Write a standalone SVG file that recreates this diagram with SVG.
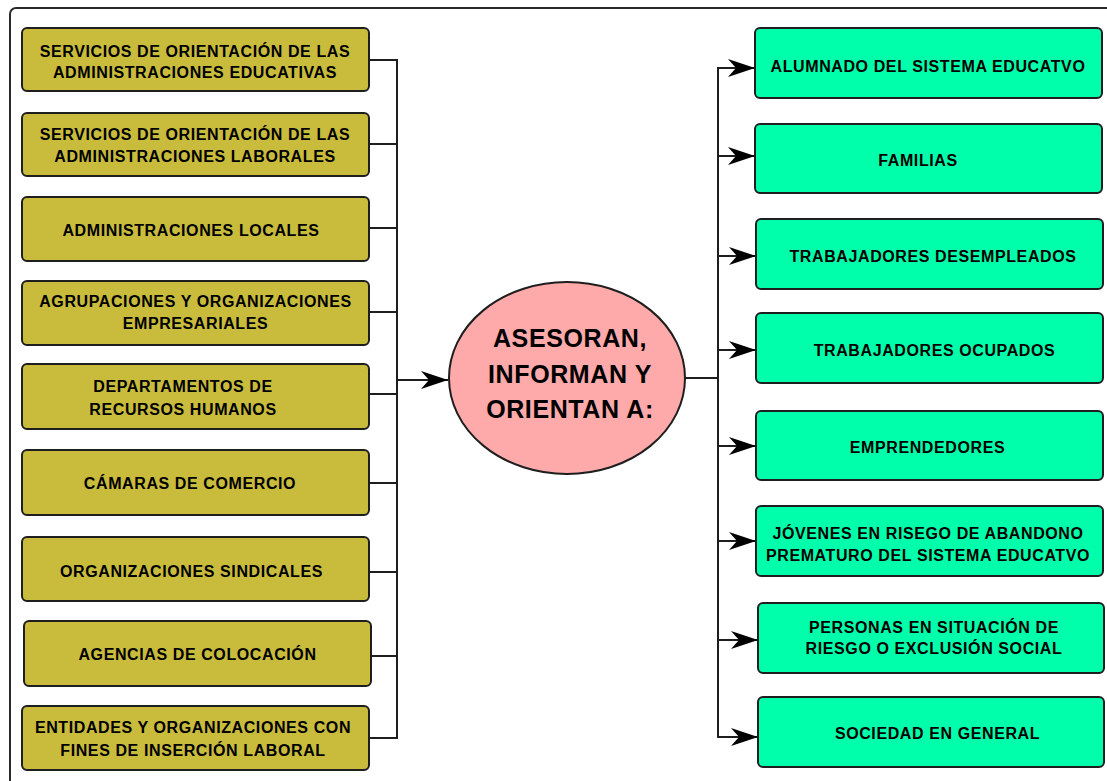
<svg xmlns="http://www.w3.org/2000/svg" width="1107" height="781" viewBox="0 0 1107 781">
<style>
.l{fill:#C9BC3C;stroke:#1e1e1e;stroke-width:2}
.r{fill:#00FFAA;stroke:#1e1e1e;stroke-width:2}
.t{font-family:"Liberation Sans",Arial,sans-serif;font-weight:bold;font-size:16px;fill:#000;text-anchor:middle;letter-spacing:0.6px}
.big{font-size:25px;letter-spacing:0.6px}
.c{fill:none;stroke:#1e1e1e;stroke-width:2}
</style>
<defs>
<marker id="ah" markerUnits="userSpaceOnUse" markerWidth="30" markerHeight="22" refX="27" refY="10" orient="auto">
<path d="M27,10 L0,1 L8,10 L0,19 Z" fill="#000"/>
</marker>
</defs>
<rect x="0" y="0" width="1107" height="781" fill="#fff"/>
<rect x="10" y="8" width="1120" height="800" rx="6" fill="none" stroke="#2a2a2a" stroke-width="2"/>
<g id="connectors">
<path class="c" d="M369,60 H397 M369,144 H397 M369,228 H397 M369,312 H397 M369,394 H397 M369,483 H397 M369,572 H397 M371,656 H397 M369,738 H397 M397,59 V739"/>
<path class="c" d="M397,380 H448" marker-end="url(#ah)"/>
<path class="c" d="M685,378 H718 M718,67 V738"/>
<path class="c" d="M718,68 H755" marker-end="url(#ah)"/>
<path class="c" d="M718,156 H755" marker-end="url(#ah)"/>
<path class="c" d="M718,256 H756" marker-end="url(#ah)"/>
<path class="c" d="M718,350 H756" marker-end="url(#ah)"/>
<path class="c" d="M718,446 H756" marker-end="url(#ah)"/>
<path class="c" d="M718,541 H756" marker-end="url(#ah)"/>
<path class="c" d="M718,640 H758" marker-end="url(#ah)"/>
<path class="c" d="M718,737 H758" marker-end="url(#ah)"/>
</g>
<g id="n1"><rect class="l" x="22" y="28" width="347" height="63" rx="5"/><text class="t" x="195" y="57">SERVICIOS DE ORIENTACIÓN DE LAS</text><text class="t" x="195" y="78">ADMINISTRACIONES EDUCATIVAS</text></g>
<g id="n2"><rect class="l" x="22" y="113" width="347" height="63" rx="5"/><text class="t" x="195" y="140">SERVICIOS DE ORIENTACIÓN DE LAS</text><text class="t" x="195" y="162">ADMINISTRACIONES LABORALES</text></g>
<g id="n3"><rect class="l" x="22" y="197" width="347" height="64" rx="5"/><text class="t" x="191" y="236">ADMINISTRACIONES LOCALES</text></g>
<g id="n4"><rect class="l" x="22" y="281" width="347" height="64" rx="5"/><text class="t" x="195.5" y="307">AGRUPACIONES Y ORGANIZACIONES</text><text class="t" x="195.5" y="329">EMPRESARIALES</text></g>
<g id="n5"><rect class="l" x="22" y="364" width="347" height="65" rx="5"/><text class="t" x="183" y="392">DEPARTAMENTOS DE</text><text class="t" x="183" y="415">RECURSOS HUMANOS</text></g>
<g id="n6"><rect class="l" x="22" y="450" width="347" height="65" rx="5"/><text class="t" x="190" y="489">CÁMARAS DE COMERCIO</text></g>
<g id="n7"><rect class="l" x="22" y="537" width="347" height="64" rx="5"/><text class="t" x="191.5" y="577">ORGANIZACIONES SINDICALES</text></g>
<g id="n8"><rect class="l" x="24" y="621" width="347" height="65" rx="5"/><text class="t" x="197.5" y="660">AGENCIAS DE COLOCACIÓN</text></g>
<g id="n9"><rect class="l" x="22" y="706" width="347" height="64" rx="5"/><text class="t" x="193" y="733">ENTIDADES Y ORGANIZACIONES CON</text><text class="t" x="193" y="756">FINES DE INSERCIÓN LABORAL</text></g>
<g id="center"><ellipse cx="567" cy="378" rx="118" ry="96" fill="#FFAAAA" stroke="#1e1e1e" stroke-width="2"/>
<text class="t big" x="570" y="347">ASESORAN,</text><text class="t big" x="570" y="383">INFORMAN Y</text><text class="t big" x="570" y="418">ORIENTAN A:</text></g>
<g id="r1"><rect class="r" x="755" y="28" width="347" height="70" rx="5"/><text class="t" x="928" y="72">ALUMNADO DEL SISTEMA EDUCATVO</text></g>
<g id="r2"><rect class="r" x="755" y="124" width="347" height="69" rx="5"/><text class="t" x="918" y="166">FAMILIAS</text></g>
<g id="r3"><rect class="r" x="756" y="219" width="347" height="70" rx="5"/><text class="t" x="933" y="262">TRABAJADORES DESEMPLEADOS</text></g>
<g id="r4"><rect class="r" x="756" y="313" width="347" height="70" rx="5"/><text class="t" x="934.5" y="356">TRABAJADORES OCUPADOS</text></g>
<g id="r5"><rect class="r" x="756" y="411" width="347" height="69" rx="5"/><text class="t" x="927.5" y="453">EMPRENDEDORES</text></g>
<g id="r6"><rect class="r" x="756" y="506" width="347" height="70" rx="5"/><text class="t" x="928" y="539">JÓVENES EN RISEGO DE ABANDONO</text><text class="t" x="928" y="561">PREMATURO DEL SISTEMA EDUCATVO</text></g>
<g id="r7"><rect class="r" x="758" y="603" width="346" height="70" rx="5"/><text class="t" x="934" y="633">PERSONAS EN SITUACIÓN DE</text><text class="t" x="934" y="654">RIESGO O EXCLUSIÓN SOCIAL</text></g>
<g id="r8"><rect class="r" x="758" y="697" width="346" height="70" rx="5"/><text class="t" x="937.5" y="739">SOCIEDAD EN GENERAL</text></g>
</svg>
